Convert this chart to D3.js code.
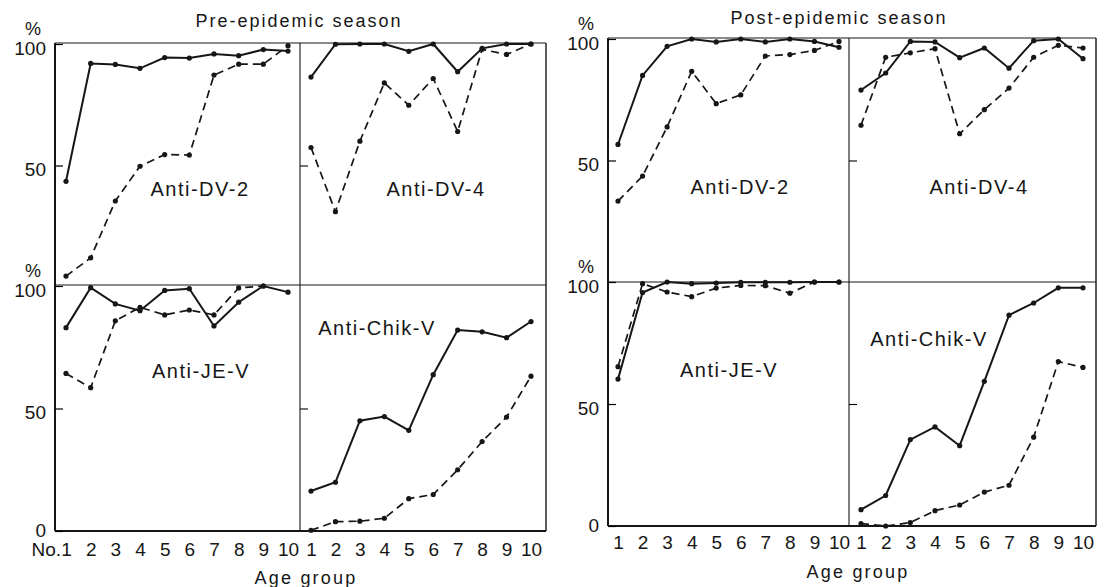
<!DOCTYPE html>
<html>
<head>
<meta charset="utf-8">
<script src="https://cdn.jsdelivr.net/npm/d3@7"></script>
<style>
  body { margin: 0; background: #fff; }
  svg { display: block; }
  text { font-family: "Liberation Sans", Arial, sans-serif; fill: #161616; }
</style>
</head>
<body>
<script>
//Age groups on the x axis, y ticks and the titles

const ageGroups = [1, 2, 3, 4, 5, 6, 7, 8, 9, 10];
const yTicksTop = [50, 100];
const yTicksBottom = [0, 50, 100];
const seasonTitles = ["Pre-epidemic season", "Post-epidemic season"];
const antibodyNames = ["Anti-DV-2", "Anti-DV-4", "Anti-JE-V", "Anti-Chik-V"];

//Pre-epidemic season, % positive per age group (solid line and dashed line)

const preDV2Solid   = [43.5, 92, 91.6, 90, 94.4, 94.2, 95.9, 95.2, 97.7, 97.1];
const preDV2Dashed  = [4.5, 12, 35.4, 49.7, 54.5, 54.3, 87.2, 91.7, 91.7, 99.3];
const preDV4Solid   = [86.4, 99.9, 100, 100, 97, 100, 88.6, 98.2, 100, 100];
const preDV4Dashed  = [57.4, 31, 60, 84, 74.8, 85.8, 64, 97.8, 95.7, 100];
const preJESolid    = [83, 99.3, 92.7, 89.9, 98.2, 98.9, 83.7, 93.4, 100, 97.5];
const preJEDashed   = [64.3, 58.5, 85.8, 91.3, 88.2, 90.2, 88.2, 99.2, 100, null];
const preChikSolid  = [16.3, 19.9, 45, 46.7, 41.1, 63.8, 82, 81.3, 78.9, 85.5];
const preChikDashed = [0.3, 3.8, 4, 5.2, 13.2, 14.9, 25, 36.5, 46.5, 63.2];

//Post-epidemic season

const postDV2Solid   = [56.6, 85, 97, 100, 98.8, 100, 98.8, 100, 99, 96.6];
const postDV2Dashed  = [33.3, 43.6, 63.8, 86.7, 73.4, 77, 93, 93.6, 95.3, 99];
const postDV4Solid   = [79, 86, 99, 98.8, 92.3, 96.3, 88, 99.3, 100, 91.9];
const postDV4Dashed  = [64.5, 92.5, 94.3, 96, 61, 70.9, 79.8, 92.5, 97.4, 96.3];
const postJESolid    = [60.2, 95.7, 100, 99.3, 99.6, 99.9, 99.9, 99.9, 100, 100];
const postJEDashed   = [65.3, 99.3, 95.9, 94, 97.5, 98.6, 98.5, 95.4, 100, 100];
const postChikSolid  = [6.7, 12.5, 35.4, 40.6, 32.9, 59.3, 86.4, 91.4, 97.6, 97.6];
const postChikDashed = [1, 0, 1.4, 6.3, 8.6, 13.9, 16.7, 36.4, 67.4, 65];

//Series grouped per panel: top-left, top-right, bottom-left, bottom-right

const preSeries = [
  [preDV2Solid, preDV2Dashed], [preDV4Solid, preDV4Dashed],
  [preJESolid, preJEDashed], [preChikSolid, preChikDashed]
];
const postSeries = [
  [postDV2Solid, postDV2Dashed], [postDV4Solid, postDV4Dashed],
  [postJESolid, postJEDashed], [postChikSolid, postChikDashed]
];

//Layout of the two halves (pixels)

const preLayout = {
  left: 55, div: 300, right: 546, top: 43, mid: 285, bottom: 531,
  xl: [66, 288], xr: [311, 531], yt: [287, 44], yb: [531, 286],
  titleX: 299, titleY: 27, tickY: 542, ageX: 306, ageY: 584,
  labels: [[200, 196], [436, 196], [201, 378], [377, 335]]
};
const postLayout = {
  left: 608, div: 849, right: 1096, top: 38, mid: 282, bottom: 526,
  xl: [618, 839], xr: [861, 1083], yt: [282, 39], yb: [526, 282],
  titleX: 839, titleY: 24, tickY: 535, ageX: 858, ageY: 578,
  labels: [[740, 194], [979, 194], [729, 377], [929, 346]]
};

var svg = d3.select("body")
  .append("svg")
  .attr("width", 1107)
  .attr("height", 587);

function drawSeason(L, series, title, firstLabel){

  var g = svg.append("g");

  var xLeft = d3.scaleLinear().domain([1, 10]).range(L.xl);
  var xRight = d3.scaleLinear().domain([1, 10]).range(L.xr);
  var yTop = d3.scaleLinear().domain([0, 100]).range(L.yt);
  var yBottom = d3.scaleLinear().domain([0, 100]).range(L.yb);

  //frame: thick left and bottom, thinner top, right and dividers

  g.append("line").attr("x1", L.left).attr("x2", L.left).attr("y1", L.top).attr("y2", L.bottom)
    .attr("stroke", "#161616").attr("stroke-width", 2);
  g.append("line").attr("x1", L.left).attr("x2", L.right).attr("y1", L.bottom).attr("y2", L.bottom)
    .attr("stroke", "#161616").attr("stroke-width", 2);
  g.append("line").attr("x1", L.left).attr("x2", L.right).attr("y1", L.top).attr("y2", L.top)
    .attr("stroke", "#161616").attr("stroke-width", 1.2);
  g.append("line").attr("x1", L.right).attr("x2", L.right).attr("y1", L.top).attr("y2", L.bottom)
    .attr("stroke", "#161616").attr("stroke-width", 1.4);
  g.append("line").attr("x1", L.div).attr("x2", L.div).attr("y1", L.top).attr("y2", L.bottom)
    .attr("stroke", "#161616").attr("stroke-width", 1.1);
  g.append("line").attr("x1", L.left).attr("x2", L.right).attr("y1", L.mid).attr("y2", L.mid)
    .attr("stroke", "#161616").attr("stroke-width", 1.1);

  //y axes on the left frame, inward ticks

  var axTop = g.append("g").attr("transform", "translate(" + L.left + ",0)")
    .call(d3.axisLeft(yTop).tickValues(yTicksTop).tickSizeInner(-8).tickSizeOuter(0).tickPadding(9));
  var axBottom = g.append("g").attr("transform", "translate(" + L.left + ",0)")
    .call(d3.axisLeft(yBottom).tickValues(yTicksBottom).tickSizeInner(-8).tickSizeOuter(0).tickPadding(9));

  [axTop, axBottom].forEach(function(ax){
    ax.select(".domain").remove();
    ax.attr("font-size", 19);
    ax.selectAll("line").attr("stroke-width", 1.2);
    ax.selectAll("text").attr("dy", function(d){ return d === 0 ? "0.3em" : "0.55em"; });
  });

  //small ticks at 50 on the vertical divider

  [yTop, yBottom].forEach(function(y){
    var ax = g.append("g").attr("transform", "translate(" + L.div + ",0)")
      .call(d3.axisRight(y).tickValues([50]).tickSize(8).tickFormat(""));
    ax.select(".domain").remove();
    ax.selectAll("line").attr("stroke-width", 1.1);
  });

  //% signs above the two 100 labels

  [yTop(100), yBottom(100)].forEach(function(yy){
    g.append("text")
      .attr("x", L.left - 22)
      .attr("y", yy - 9)
      .attr("text-anchor", "middle")
      .attr("font-size", 18)
      .text("%");
  });

  //x tick labels

  [xLeft, xRight].forEach(function(x){
    var ax = g.append("g").attr("transform", "translate(0," + L.tickY + ")")
      .call(d3.axisBottom(x).tickValues(ageGroups).tickSize(0).tickPadding(0));
    ax.select(".domain").remove();
    ax.attr("font-size", 19);
  });

  if(firstLabel){
    g.append("text")
      .attr("x", xLeft(1) - 5)
      .attr("y", L.tickY + 14)
      .attr("text-anchor", "end")
      .attr("font-size", 19)
      .text(firstLabel);
  }

  //titles

  g.append("text")
    .attr("x", L.titleX).attr("y", L.titleY)
    .attr("text-anchor", "middle")
    .attr("font-size", 18)
    .style("letter-spacing", "2px")
    .text(title);

  g.append("text")
    .attr("x", L.ageX).attr("y", L.ageY)
    .attr("text-anchor", "middle")
    .attr("font-size", 18)
    .style("letter-spacing", "2.2px")
    .text("Age group");

  //the four panels

  var panels = [
    {x: xLeft, y: yTop}, {x: xRight, y: yTop},
    {x: xLeft, y: yBottom}, {x: xRight, y: yBottom}
  ];

  panels.forEach(function(p, k){

    g.append("text")
      .attr("x", L.labels[k][0]).attr("y", L.labels[k][1])
      .attr("text-anchor", "middle")
      .attr("font-size", 20)
      .style("letter-spacing", "1.5px")
      .text(antibodyNames[k]);

    series[k].forEach(function(values, s){
      var line = d3.line()
        .defined(function(d){ return d !== null; })
        .x(function(d, i){ return p.x(ageGroups[i]); })
        .y(function(d){ return p.y(d); });

      g.append("path")
        .datum(values)
        .attr("d", line)
        .attr("fill", "none")
        .attr("stroke", "#161616")
        .attr("stroke-width", s === 0 ? 2 : 1.7)
        .attr("stroke-dasharray", s === 0 ? null : "8,5");

      g.selectAll(null)
        .data(values.map(function(d, i){ return {v: d, a: ageGroups[i]}; })
          .filter(function(d){ return d.v !== null; }))
        .enter()
        .append("circle")
        .attr("cx", function(d){ return p.x(d.a); })
        .attr("cy", function(d){ return p.y(d.v); })
        .attr("r", 2.6)
        .attr("fill", "#161616");
    });
  });
}

drawSeason(preLayout, preSeries, seasonTitles[0], "No.");
drawSeason(postLayout, postSeries, seasonTitles[1], null);
</script>
</body>
</html>
